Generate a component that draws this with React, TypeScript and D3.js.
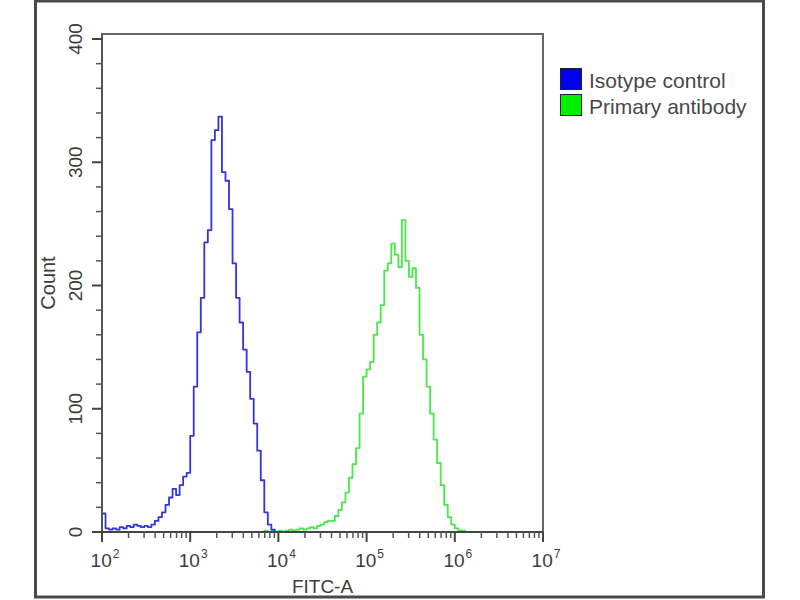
import React from 'react';
import * as d3 from 'd3';

// histogram bins on a log10 FITC axis
const binWidth = 0.04;

const isotypeStart = 2.0;
const isotypeCounts = [
  15, 3, 2, 3, 2, 4, 3, 5, 4, 6,
  5, 4, 5, 4, 6, 9, 12, 16, 22, 28,
  35, 30, 38, 45, 48, 78, 118, 162, 190, 235,
  245, 318, 326, 337, 292, 285, 262, 218, 190, 170,
  148, 130, 108, 88, 66, 42, 16, 6, 2, 0,
];

const primaryStart = 3.8;
const primaryCounts = [
  0, 1, 0, 1, 0, 1, 0, 1, 2, 1,
  2, 3, 2, 3, 4, 3, 5, 6, 8, 9,
  9, 13, 18, 24, 32, 44, 55, 68, 96, 126,
  132, 138, 160, 170, 184, 212, 218, 234, 225, 215,
  253, 220, 207, 214, 198, 160, 140, 118, 96, 75,
  56, 38, 22, 12, 6, 3, 1, 1, 0, 0,
];

const xDecades = [2, 3, 4, 5, 6, 7];
const yMajor = [0, 100, 200, 300, 400];
const yMinor = [20, 40, 60, 80, 120, 140, 160, 180, 220, 240, 260, 280, 320, 340, 360, 380];

const legendItems = [
  { label: 'Isotype control', color: '#0000ee' },
  { label: 'Primary antibody', color: '#00ee00' },
];

const font = '"Liberation Sans", Arial, sans-serif';
const textColor = '#3c3c3c';

const left = 102;
const right = 543;
const top = 34;
const bottom = 532;

const xScale = d3.scaleLog().domain([1e2, 1e7]).range([left, right]);
const yScale = d3.scaleLinear().domain([0, 400]).range([bottom, 39]);

const histPath = (start: number, counts: number[]) => {
  const pts: [number, number][] = counts.map((c, i) => [Math.pow(10, start + i * binWidth), c]);
  pts.push([Math.pow(10, start + counts.length * binWidth), counts[counts.length - 1]]);
  return (
    d3
      .line<[number, number]>()
      .x((d) => xScale(d[0]))
      .y((d) => yScale(d[1]))
      .curve(d3.curveStepAfter)(pts) || ''
  );
};

const App: React.FC = () => {
  const minorX: number[] = [];
  xDecades.slice(0, -1).forEach((p) => {
    for (let m = 2; m <= 9; m++) minorX.push(m * Math.pow(10, p));
  });

  return (
    <div style={{ position: 'fixed', left: 0, top: 0 }}>
      <svg width={800} height={600} style={{ display: 'block', background: '#fff' }}>
        <rect x={35.5} y={1} width={728} height={596} fill="#fff" stroke="#4a4a4a" strokeWidth={3} />

        {/* plot frame */}
        <rect x={left} y={top} width={right - left} height={bottom - top} fill="none" stroke="#666" strokeWidth={2} />

        {/* histograms */}
        <path d={histPath(primaryStart, primaryCounts)} fill="none" stroke="#4ae84a" strokeWidth={1.8} strokeLinejoin="round" />
        <path d={histPath(isotypeStart, isotypeCounts)} fill="none" stroke="#3434de" strokeWidth={1.8} strokeLinejoin="round" />

        {/* x axis */}
        <line x1={left} x2={right} y1={bottom} y2={bottom} stroke="#444" strokeWidth={2} />
        {minorX.map((v, i) => (
          <line key={'mx' + i} x1={xScale(v)} x2={xScale(v)} y1={bottom} y2={bottom + 6} stroke="#555" strokeWidth={1.5} />
        ))}
        {xDecades.map((p) => (
          <g key={'x' + p}>
            <line x1={xScale(Math.pow(10, p))} x2={xScale(Math.pow(10, p))} y1={bottom} y2={bottom + 10} stroke="#444" strokeWidth={2} />
            <text x={xScale(Math.pow(10, p)) + 3} y={567} textAnchor="middle" fontFamily={font} fontSize={19} fill={textColor}>
              10
              <tspan dx={1} dy={-9} fontSize={12}>
                {p}
              </tspan>
            </text>
          </g>
        ))}
        <text x={(left + right) / 2} y={593} textAnchor="middle" fontFamily={font} fontSize={19} fill={textColor}>
          FITC-A
        </text>

        {/* y axis */}
        <line x1={left} x2={left} y1={top} y2={bottom} stroke="#555" strokeWidth={2} />
        {yMinor.map((v) => (
          <line key={'my' + v} x1={left - 6} x2={left} y1={yScale(v)} y2={yScale(v)} stroke="#555" strokeWidth={1.5} />
        ))}
        {yMajor.map((v) => (
          <g key={'y' + v}>
            <line x1={left - 10} x2={left} y1={yScale(v)} y2={yScale(v)} stroke="#444" strokeWidth={2} />
            <text
              transform={`translate(82, ${yScale(v)}) rotate(-90)`}
              textAnchor="middle"
              fontFamily={font}
              fontSize={19}
              fill={textColor}
            >
              {v}
            </text>
          </g>
        ))}
        <text transform={`translate(55, ${(top + bottom) / 2}) rotate(-90)`} textAnchor="middle" fontFamily={font} fontSize={20} fill={textColor}>
          Count
        </text>

        {/* legend */}
        {legendItems.map((d, i) => (
          <g key={d.label} transform={`translate(560, ${68 + i * 26})`}>
            <rect x={0.5} y={0.5} width={21} height={21} fill={d.color} stroke="#222" strokeWidth={1} />
            <text x={29} y={20} fontFamily={font} fontSize={21} fill="#484848">
              {d.label}
            </text>
          </g>
        ))}
      </svg>
    </div>
  );
};

export default App;
